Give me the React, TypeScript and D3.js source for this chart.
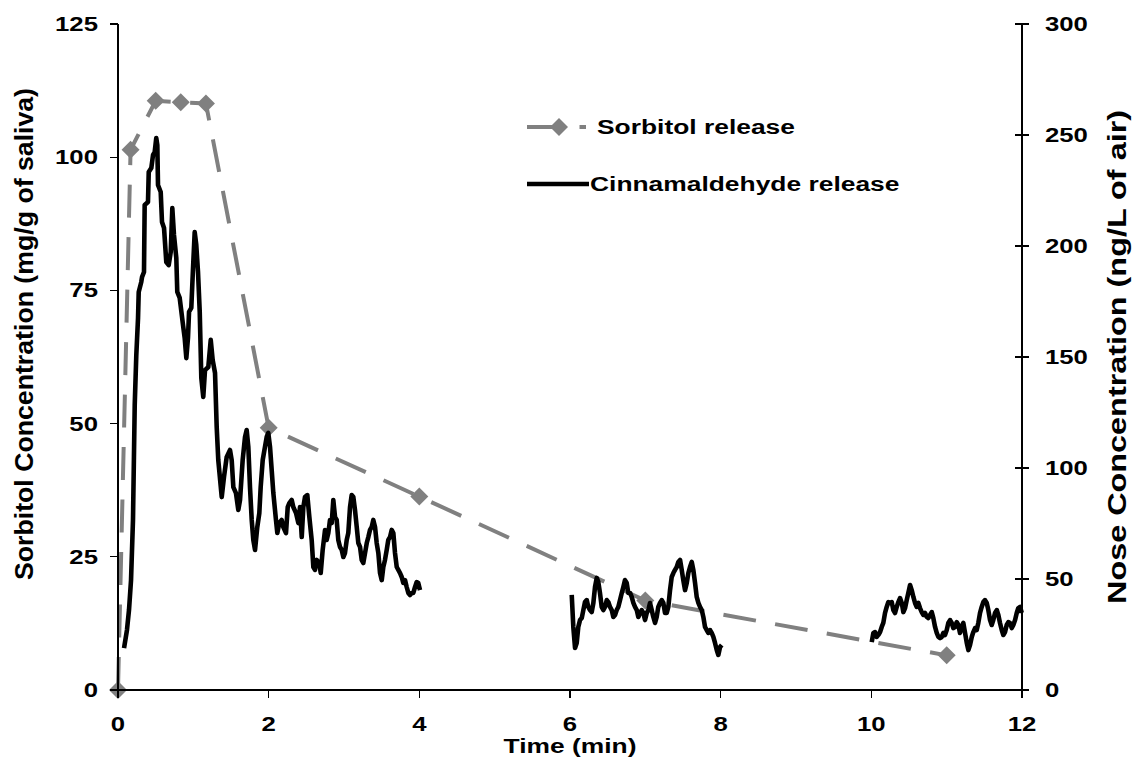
import React from "react";
import * as d3 from "d3";

// Axis tick values
const TIME_TICKS = [0, 2, 4, 6, 8, 10, 12];
const SORBITOL_TICKS = [0, 25, 50, 75, 100, 125];
const NOSE_TICKS = [0, 50, 100, 150, 200, 250, 300];

// Sorbitol in saliva: [time (min), mg/g of saliva]
const sorbitolRelease: [number, number][] = [
  [0, 0], [0.167, 101.4], [0.5, 110.6], [0.833, 110.3], [1.167, 110.1],
  [2, 49.2], [4, 36.3], [7, 16.8], [11, 6.5],
];

// Cinnamaldehyde in the nose: [time (min), ng/L of air], three recording windows
const noseRun1: [number, number][] = [
  [0.080, 18.9], [0.119, 27.0], [0.146, 36.0], [0.173, 49.5], [0.199, 76.6], [0.222, 128.4],
  [0.243, 150.9], [0.266, 167.6], [0.275, 179.3], [0.309, 183.8], [0.319, 186.0], [0.345, 188.3],
  [0.354, 218.5], [0.398, 219.8], [0.408, 233.3], [0.442, 235.1], [0.465, 241.0], [0.487, 242.3],
  [0.508, 248.6], [0.522, 245.5], [0.531, 227.5], [0.567, 224.3], [0.584, 210.8], [0.611, 208.1],
  [0.641, 192.8], [0.673, 191.4], [0.700, 197.3], [0.721, 217.1], [0.743, 205.0], [0.774, 194.6],
  [0.787, 179.3], [0.819, 176.6], [0.863, 164.4], [0.885, 158.6], [0.907, 149.5], [0.929, 158.6],
  [0.943, 170.3], [0.973, 172.1], [0.996, 190.1], [1.018, 206.3], [1.039, 200.5], [1.062, 188.3],
  [1.085, 170.3], [1.106, 140.5], [1.132, 132.0], [1.155, 144.1], [1.199, 145.5], [1.231, 157.7],
  [1.257, 148.6], [1.288, 142.8], [1.310, 118.5], [1.331, 103.6], [1.377, 86.9], [1.407, 95.9],
  [1.443, 105.0], [1.487, 108.1], [1.509, 103.6], [1.531, 91.4], [1.566, 88.7], [1.597, 81.1],
  [1.620, 85.6], [1.655, 103.6], [1.686, 114.0], [1.708, 117.1], [1.730, 109.5], [1.752, 91.4],
  [1.775, 76.6], [1.796, 67.6], [1.819, 63.1], [1.849, 73.4], [1.876, 79.7], [1.894, 91.4],
  [1.921, 103.6], [1.951, 109.5], [1.974, 114.0], [1.995, 115.8], [2.018, 109.5], [2.040, 99.1],
  [2.062, 88.7], [2.097, 76.6], [2.115, 70.7], [2.141, 75.2], [2.173, 76.6], [2.194, 73.4],
  [2.230, 70.7], [2.253, 82.4], [2.274, 84.2], [2.306, 85.6], [2.327, 82.4], [2.363, 79.7],
  [2.394, 75.2], [2.416, 82.4], [2.439, 68.9], [2.460, 82.4], [2.482, 86.9], [2.513, 87.8],
  [2.540, 77.9], [2.571, 67.6], [2.593, 55.4], [2.615, 54.1], [2.638, 58.6], [2.672, 57.2],
  [2.691, 52.7], [2.717, 63.1], [2.748, 72.1], [2.770, 67.6], [2.792, 70.7], [2.814, 76.6],
  [2.837, 75.2], [2.858, 85.6], [2.881, 77.9], [2.903, 76.6], [2.924, 67.6], [2.947, 64.4],
  [2.970, 63.1], [2.991, 59.9], [3.013, 61.7], [3.036, 67.6], [3.057, 70.7], [3.080, 82.4],
  [3.102, 87.8], [3.124, 86.9], [3.146, 81.1], [3.169, 73.4], [3.190, 66.2], [3.213, 64.4],
  [3.235, 58.6], [3.256, 57.2], [3.279, 61.7], [3.302, 66.2], [3.323, 68.9], [3.345, 72.1],
  [3.368, 73.4], [3.389, 76.6], [3.412, 73.4], [3.434, 66.2], [3.456, 61.7], [3.478, 52.7],
  [3.501, 49.5], [3.522, 55.4], [3.544, 58.6], [3.567, 63.1], [3.588, 67.6], [3.611, 68.9],
  [3.633, 72.1], [3.655, 70.7], [3.677, 61.7], [3.700, 55.4], [3.721, 54.1], [3.744, 52.7],
  [3.766, 50.9], [3.787, 48.2], [3.810, 49.5], [3.832, 46.4], [3.854, 43.7], [3.876, 42.8],
  [3.899, 43.7], [3.920, 43.7], [3.943, 46.4], [3.965, 48.6], [3.986, 48.2], [4.009, 45.0],
];

const noseRun2: [number, number][] = [
  [6.023, 42.8], [6.044, 28.4], [6.067, 18.9], [6.089, 21.2], [6.110, 28.4], [6.133, 31.5],
  [6.156, 32.4], [6.177, 36.0], [6.199, 39.6], [6.222, 40.5], [6.243, 37.4], [6.266, 36.0],
  [6.288, 35.1], [6.310, 39.2], [6.332, 46.4], [6.355, 50.5], [6.376, 48.6], [6.398, 43.7],
  [6.421, 37.4], [6.442, 36.0], [6.465, 37.4], [6.488, 40.5], [6.509, 39.6], [6.531, 37.4],
  [6.554, 36.0], [6.575, 32.9], [6.598, 33.8], [6.620, 36.0], [6.641, 37.4], [6.664, 40.5],
  [6.687, 43.7], [6.708, 46.4], [6.730, 49.5], [6.753, 48.2], [6.774, 43.7], [6.797, 43.7],
  [6.819, 41.9], [6.841, 39.2], [6.863, 37.4], [6.886, 36.0], [6.907, 32.9], [6.930, 34.7],
  [6.952, 36.0], [6.973, 34.7], [6.996, 31.5], [7.019, 34.7], [7.040, 36.0], [7.062, 39.2],
  [7.085, 36.0], [7.106, 32.9], [7.129, 30.2], [7.151, 32.9], [7.172, 37.4], [7.195, 39.2],
  [7.218, 40.5], [7.239, 39.2], [7.261, 34.7], [7.284, 34.7], [7.305, 37.4], [7.328, 45.0],
  [7.350, 50.9], [7.372, 52.7], [7.394, 54.1], [7.417, 55.4], [7.438, 57.7], [7.461, 58.6],
  [7.483, 54.1], [7.504, 49.5], [7.527, 45.0], [7.550, 48.2], [7.571, 52.7], [7.593, 55.4],
  [7.616, 57.7], [7.637, 54.1], [7.660, 48.2], [7.682, 41.9], [7.704, 39.2], [7.726, 37.4],
  [7.749, 36.0], [7.770, 32.9], [7.792, 28.4], [7.815, 27.0], [7.836, 25.7], [7.859, 27.0],
  [7.881, 25.7], [7.903, 23.9], [7.925, 21.2], [7.948, 18.0], [7.969, 15.8], [7.992, 19.4],
  [8.014, 20.3],
];

const noseRun3: [number, number][] = [
  [10.005, 21.6], [10.027, 25.7], [10.049, 26.1], [10.072, 23.9], [10.093, 24.8], [10.116, 26.1],
  [10.138, 28.4], [10.159, 30.2], [10.182, 34.7], [10.204, 37.4], [10.226, 39.6], [10.248, 39.2],
  [10.271, 39.6], [10.292, 36.0], [10.315, 34.7], [10.337, 37.4], [10.358, 39.6], [10.381, 41.4],
  [10.404, 39.2], [10.425, 35.1], [10.448, 36.9], [10.470, 40.5], [10.491, 43.7], [10.514, 47.3],
  [10.536, 45.0], [10.558, 41.9], [10.580, 39.2], [10.603, 37.4], [10.624, 39.2], [10.646, 36.9],
  [10.669, 35.1], [10.690, 33.8], [10.713, 34.7], [10.735, 32.9], [10.757, 32.4], [10.779, 33.8],
  [10.802, 35.1], [10.823, 32.4], [10.846, 28.4], [10.868, 25.7], [10.890, 23.9], [10.912, 23.4],
  [10.935, 23.9], [10.956, 25.7], [10.978, 24.8], [11.001, 27.0], [11.022, 30.2], [11.045, 31.5],
  [11.067, 30.2], [11.088, 27.9], [11.111, 28.4], [11.134, 30.6], [11.155, 29.3], [11.177, 25.7],
  [11.200, 28.4], [11.221, 30.2], [11.244, 25.7], [11.267, 21.2], [11.288, 18.0], [11.310, 20.3],
  [11.333, 23.9], [11.354, 26.1], [11.377, 27.9], [11.399, 27.0], [11.420, 30.2], [11.443, 34.7],
  [11.465, 37.4], [11.487, 39.6], [11.509, 40.5], [11.532, 39.2], [11.553, 36.0], [11.576, 31.5],
  [11.598, 29.3], [11.619, 31.5], [11.642, 34.7], [11.665, 36.0], [11.686, 33.8], [11.708, 30.2],
  [11.731, 27.0], [11.752, 24.8], [11.775, 26.1], [11.797, 29.3], [11.819, 30.6], [11.841, 30.2],
  [11.864, 27.9], [11.885, 29.3], [11.908, 31.5], [11.930, 34.7], [11.951, 36.9], [11.974, 37.4],
  [11.997, 34.7],
];

const LEGEND = ["Sorbitol release", "Cinnamaldehyde release"];
const X_TITLE = "Time (min)";
const Y_LEFT_TITLE = "Sorbitol Concentration (mg/g of saliva)";
const Y_RIGHT_TITLE = "Nose Concentration (ng/L of air)";

const FONT = "'Liberation Sans', Arial, Helvetica, sans-serif";
const GREY = "#808080";
// lettering is drawn a little wider than the regular face
const WIDEN = 1.32;

const W = 1132;
const H = 768;
const LEFT = 118;
const RIGHT = 1022;
const TOP = 24;
const BOTTOM = 690;

type Anchor = "start" | "middle" | "end";

function WideText(props: { x: number; y: number; anchor?: Anchor; size: number; children: React.ReactNode }) {
  return (
    <text
      transform={`translate(${props.x},${props.y}) scale(${WIDEN},1)`}
      textAnchor={props.anchor || "start"}
      fontSize={props.size}
    >
      {props.children}
    </text>
  );
}

// rotated axis title running bottom-to-top between y0 (bottom) and y1 (top)
function SideTitle(props: { x: number; y0: number; y1: number; children: string }) {
  const len = props.y0 - props.y1;
  return (
    <text
      transform={`translate(${props.x},${(props.y0 + props.y1) / 2}) scale(1.15,1) rotate(-90)`}
      textAnchor="middle"
      fontSize={22}
      textLength={len}
      lengthAdjust="spacingAndGlyphs"
    >
      {props.children}
    </text>
  );
}

export default function App() {
  const x = d3.scaleLinear().domain([0, 12]).range([LEFT, RIGHT]);
  const yL = d3.scaleLinear().domain([0, 125]).range([BOTTOM, TOP]);
  const yR = d3.scaleLinear().domain([0, 300]).range([BOTTOM, TOP]);

  const sorbLine = d3
    .line<[number, number]>()
    .x((d) => x(d[0]))
    .y((d) => yL(d[1]));
  const noseLine = d3
    .line<[number, number]>()
    .x((d) => x(d[0]))
    .y((d) => yR(d[1]));

  const diamond = d3.symbol().type(d3.symbolSquare).size(162)() as string;
  const dash = "33 19.5";

  return (
    <div style={{ position: "absolute", left: 0, top: 0 }}>
      <svg width={W} height={H} style={{ display: "block", background: "#fff" }}>
        <rect x={0} y={0} width={W} height={H} fill="#fff" />

        {/* sorbitol (left axis) */}
        <path
          d={sorbLine(sorbitolRelease) as string}
          fill="none"
          stroke={GREY}
          strokeWidth={4}
          strokeDasharray={dash}
        />
        {sorbitolRelease.map((d, i) => (
          <path
            key={i}
            d={diamond}
            fill={GREY}
            transform={`translate(${x(d[0])},${yL(d[1])}) rotate(45)`}
          />
        ))}

        {/* cinnamaldehyde (right axis) */}
        {[noseRun1, noseRun2, noseRun3].map((run, i) => (
          <path
            key={i}
            d={noseLine(run) as string}
            fill="none"
            stroke="#000"
            strokeWidth={4.6}
            strokeLinejoin="round"
          />
        ))}

        {/* axes */}
        <g stroke="#000" strokeWidth={1.2} shapeRendering="crispEdges">
          <line x1={LEFT} x2={LEFT} y1={TOP} y2={BOTTOM} />
          <line x1={RIGHT} x2={RIGHT} y1={TOP} y2={BOTTOM} />
          <line x1={LEFT} x2={RIGHT} y1={BOTTOM} y2={BOTTOM} />
          {SORBITOL_TICKS.map((t) => (
            <line key={"l" + t} x1={LEFT - 8} x2={LEFT} y1={yL(t)} y2={yL(t)} />
          ))}
          {NOSE_TICKS.map((t) => (
            <line key={"r" + t} x1={RIGHT - 7} x2={RIGHT + 7} y1={yR(t)} y2={yR(t)} />
          ))}
          {TIME_TICKS.map((t) => (
            <line key={"b" + t} x1={x(t)} x2={x(t)} y1={BOTTOM} y2={BOTTOM + 8} />
          ))}
        </g>

        <g fontFamily={FONT} fontWeight="bold" fill="#000">
          {SORBITOL_TICKS.map((t) => (
            <WideText key={"lt" + t} x={LEFT - 20} y={yL(t) + 7} anchor="end" size={19.5}>
              {t}
            </WideText>
          ))}
          {NOSE_TICKS.map((t) => (
            <WideText key={"rt" + t} x={RIGHT + 23} y={yR(t) + 7} size={19.5}>
              {t}
            </WideText>
          ))}
          {TIME_TICKS.map((t) => (
            <WideText key={"bt" + t} x={x(t)} y={BOTTOM + 41} anchor="middle" size={19.5}>
              {t}
            </WideText>
          ))}

          <WideText x={(LEFT + RIGHT) / 2} y={753} anchor="middle" size={20}>
            {X_TITLE}
          </WideText>

          <SideTitle x={33} y0={580} y1={88}>{Y_LEFT_TITLE}</SideTitle>
          <SideTitle x={1126} y0={604} y1={110}>{Y_RIGHT_TITLE}</SideTitle>
        </g>

        {/* legend */}
        <g fontFamily={FONT} fontWeight="bold" fill="#000">
          <line x1={527} x2={586} y1={127} y2={127} stroke={GREY} strokeWidth={4} strokeDasharray={dash} />
          <path d={diamond} fill={GREY} transform="translate(559,127) rotate(45)" />
          <WideText x={597} y={134} size={20}>{LEGEND[0]}</WideText>
          <line x1={527} x2={589} y1={184} y2={184} stroke="#000" strokeWidth={4.6} />
          <WideText x={590} y={191} size={20}>{LEGEND[1]}</WideText>
        </g>
      </svg>
    </div>
  );
}
